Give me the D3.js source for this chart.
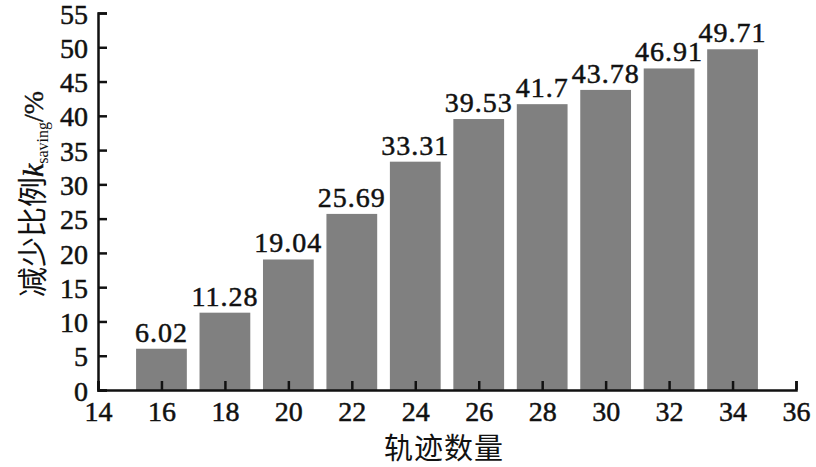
<!DOCTYPE html>
<html><head><meta charset="utf-8">
<script src="https://cdn.jsdelivr.net/npm/d3@7"></script>
<style>body{margin:0;background:#fff}svg{display:block}</style>
</head><body>
<script>
const categories = [16, 18, 20, 22, 24, 26, 28, 30, 32, 34];
const values = [6.02, 11.28, 19.04, 25.69, 33.31, 39.53, 41.7, 43.78, 46.91, 49.71];
const valueLabels = ["6.02", "11.28", "19.04", "25.69", "33.31", "39.53", "41.7", "43.78", "46.91", "49.71"];
const xTicks = [14, 16, 18, 20, 22, 24, 26, 28, 30, 32, 34, 36];
const yTicks = [0, 5, 10, 15, 20, 25, 30, 35, 40, 45, 50, 55];
const xTitle = "轨迹数量";

const W = 816, H = 467;
const L = 98, R = 796, T = 13, B = 390;
const serif = "'Liberation Serif','Times New Roman',serif";
const cjk = "'Noto Sans CJK SC','Noto Sans CJK JP',sans-serif";
const ink = "#111";

const svg = d3.select("body").append("svg").attr("width", W).attr("height", H);
const x = d3.scaleLinear().domain([14, 36]).range([L, R]);
const y = d3.scaleLinear().domain([0, 55]).range([B, T]);
const barW = x(15.6) - x(14);

svg.append("g").selectAll("rect").data(categories).join("rect")
  .attr("x", (d) => x(d) - barW / 2)
  .attr("width", barW)
  .attr("y", (d, i) => y(values[i]))
  .attr("height", (d, i) => B - y(values[i]))
  .attr("fill", "#808080");

svg.append("g").selectAll("text").data(categories).join("text")
  .attr("x", (d) => x(d))
  .attr("y", (d, i) => y(values[i]) - 7)
  .attr("text-anchor", "middle")
  .attr("font-family", serif).attr("font-size", 28)
  .attr("letter-spacing", 1)
  .attr("fill", ink).attr("stroke", ink).attr("stroke-width", 0.5)
  .text((d, i) => valueLabels[i]);

const xAxis = svg.append("g").attr("transform", `translate(0,${B})`)
  .call(d3.axisBottom(x).tickValues(xTicks).tickSize(-9).tickPadding(11).tickFormat(d3.format("d")));
const yAxis = svg.append("g").attr("transform", `translate(${L},0)`)
  .call(d3.axisLeft(y).tickValues(yTicks).tickSize(-9).tickPadding(10).tickFormat(d3.format("d")));
[xAxis, yAxis].forEach(g => {
  g.select(".domain").attr("stroke", ink).attr("stroke-width", 2.5);
  g.selectAll(".tick line").attr("stroke", ink).attr("stroke-width", 2.5);
  g.selectAll(".tick text").attr("font-family", serif).attr("font-size", 28)
    .attr("fill", ink).attr("stroke", ink).attr("stroke-width", 0.5);
});
xAxis.selectAll(".tick text").attr("dy", "0.71em");
yAxis.selectAll(".tick text").attr("dy", "0.36em");

svg.append("text")
  .attr("x", (L + R) / 2 - 3).attr("y", 459)
  .attr("text-anchor", "middle")
  .attr("font-family", cjk).attr("font-size", 29).attr("letter-spacing", 1).attr("fill", ink)
  .text(xTitle);

const yt = svg.append("text")
  .attr("transform", `translate(43,194) rotate(-90)`)
  .attr("text-anchor", "middle")
  .attr("fill", ink);
yt.append("tspan").attr("font-family", cjk).attr("font-size", 30).text("减少比例");
yt.append("tspan").attr("font-family", serif).attr("font-size", 30).attr("font-style", "italic")
  .attr("stroke", ink).attr("stroke-width", 0.5).text("k");
yt.append("tspan").attr("font-family", serif).attr("font-size", 16).attr("dy", 5).text("saving");
yt.append("tspan").attr("font-family", serif).attr("font-size", 28).attr("dy", -5)
  .attr("stroke", ink).attr("stroke-width", 0.4).text("/%");
</script>
</body></html>
